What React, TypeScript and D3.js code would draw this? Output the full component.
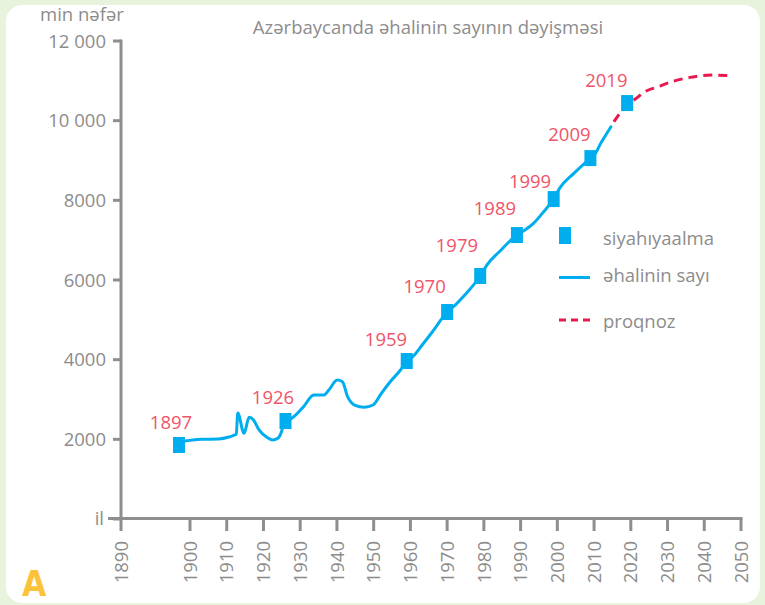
import React from "react";
import * as d3 from "d3";

// Census years and recorded population (thousand people)
const censusYears = [1897, 1926, 1959, 1970, 1979, 1989, 1999, 2009, 2019];
const censusValues = [1858, 2460, 3966, 5196, 6100, 7128, 8032, 9061, 10442];

// Annual population estimate
const populationYears = [
  1897, 1898.7, 1900.7, 1903.5, 1907.8, 1910.6, 1912.1, 1912.6, 1913.0, 1914.7,
  1916.1, 1917.3, 1918.7, 1921.1, 1922.5, 1923.9, 1924.9, 1925.4, 1926, 1927.7,
  1930.9, 1933.7, 1936.5, 1937.8, 1940.1, 1941.5, 1942.9, 1944.8, 1947.5, 1949.8,
  1952.1, 1954.5, 1957.3, 1959, 1960.65, 1963.2, 1966.0, 1970, 1972.2, 1974.8,
  1979, 1980.8, 1984.2, 1989, 1991.2, 1993.5, 1995.9, 1999, 2000.6, 2004.5,
  2009, 2010.4, 2011.8, 2012.9, 2014.6,
];
const populationValues = [
  1858, 1958, 1983, 2000, 2008, 2058, 2108, 2134, 2661, 2151,
  2553, 2485, 2251, 2041, 1983, 2026, 2191, 2359, 2460, 2528,
  2819, 3112, 3112, 3238, 3489, 3446, 3070, 2861, 2804, 2861,
  3155, 3446, 3740, 3966, 4074, 4367, 4701, 5196, 5371, 5622,
  6100, 6375, 6709, 7128, 7254, 7422, 7673, 8032, 8300, 8677,
  9061, 9179, 9430, 9596, 9847,
];

// Forecast
const forecastYears = [2015.4, 2017.6, 2019, 2020.8, 2023.8, 2027.4, 2031.1, 2034.7, 2038.3, 2042.0, 2047.0];
const forecastValues = [9972, 10266, 10442, 10517, 10725, 10851, 10976, 11062, 11119, 11144, 11135];

// Axis ticks
const xTickYears = [1890, 1900, 1910, 1920, 1930, 1940, 1950, 1960, 1970, 1980, 1990, 2000, 2010, 2020, 2030, 2040, 2050];
const yTickValues = [0, 2000, 4000, 6000, 8000, 10000, 12000];
const yTickLabels = ["", "2000", "4000", "6000", "8000", "10 000", "12 000"];

const legendLabels = ["siyahıyaalma", "əhalinin sayı", "proqnoz"];
const titleText = "Azərbaycanda əhalinin sayının dəyişməsi";
const yUnitText = "min nəfər";
const xUnitText = "il";

// Label placement relative to each census marker (layout only)
const censusLabelDx = [-8, -12.5, -20.7, -22.5, -23.3, -22, -23.6, -21, -20.8];
const censusLabelDy = [-22.5, -24, -22, -25.5, -31, -26.5, -18, -23.5, -22.5];

const W = 765;
const H = 605;
const FONT = "'Open Sans', sans-serif";
const GREY = "#8c8c8c";
const AXIS = "#8e8e90";
const BLUE = "#00aeef";
const RED_TEXT = "#f05468";
const RED_LINE = "#e8194f";

export default function App() {
  const axisX0 = 121;
  const axisY0 = 518.5;

  const x = d3.scaleLinear().domain([1900, 2050]).range([190, 741]);
  const y = d3.scaleLinear().domain([0, 12000]).range([519, 41]);
  const xTick = (yr: number) => (yr < 1900 ? axisX0 : x(yr));

  const popLine = d3
    .line<number>()
    .x((_, i) => x(populationYears[i]))
    .y((v) => y(v))
    .curve(d3.curveMonotoneX);
  const fcLine = d3
    .line<number>()
    .x((_, i) => x(forecastYears[i]))
    .y((v) => y(v))
    .curve(d3.curveMonotoneX);

  return (
    <svg
      width={W}
      height={H}
      style={{ position: "absolute", left: 0, top: 0 }}
      fontFamily={FONT}
    >
      <rect x={0} y={0} width={W} height={H} fill="#e8f3dd" />
      <rect x={6} y={5} width={754} height={598} rx={16} fill="#ffffff" />

      {/* title */}
      <text x={428} y={34} textAnchor="middle" fontSize={18.5} fill={GREY}>
        {titleText}
      </text>
      <text x={82} y={21} textAnchor="middle" fontSize={18.5} fill={GREY}>
        {yUnitText}
      </text>

      {/* y axis */}
      <line x1={axisX0} x2={axisX0} y1={y(12000) - 1.5} y2={axisY0 + 1.5} stroke={AXIS} strokeWidth={3} />
      {yTickValues.map((v, i) => (
        <g key={v}>
          <line x1={113} x2={axisX0} y1={y(v)} y2={y(v)} stroke={AXIS} strokeWidth={3} />
          <text x={106} y={y(v)} dy="0.36em" textAnchor="end" fontSize={18.5} fill={GREY}>
            {yTickLabels[i]}
          </text>
        </g>
      ))}
      <text x={104} y={axisY0} dy="0.36em" textAnchor="end" fontSize={18.5} fill={GREY}>
        {xUnitText}
      </text>

      {/* x axis */}
      <line x1={108} x2={x(2050) + 1.5} y1={axisY0} y2={axisY0} stroke={AXIS} strokeWidth={3} />
      {xTickYears.map((yr) => (
        <g key={yr}>
          <line x1={xTick(yr)} x2={xTick(yr)} y1={axisY0} y2={531} stroke={AXIS} strokeWidth={3} />
          <text
            transform={`translate(${xTick(yr)},541) rotate(-90)`}
            dy="0.36em"
            textAnchor="end"
            fontSize={18.5}
            fill={GREY}
          >
            {yr}
          </text>
        </g>
      ))}

      {/* population line */}
      <path d={popLine(populationValues) || ""} fill="none" stroke={BLUE} strokeWidth={3} strokeLinejoin="round" strokeLinecap="round" />
      {/* forecast */}
      <path d={fcLine(forecastValues) || ""} fill="none" stroke={RED_LINE} strokeWidth={3} strokeDasharray="9 6" />

      {/* census markers */}
      {censusYears.map((yr, i) => (
        <g key={yr}>
          <rect x={x(yr) - 6} y={y(censusValues[i]) - 8} width={12} height={16} fill={BLUE} />
          <text
            x={x(yr) + censusLabelDx[i]}
            y={y(censusValues[i]) + censusLabelDy[i]}
            dy="0.36em"
            textAnchor="middle"
            fontSize={18.5}
            fill={RED_TEXT}
          >
            {yr}
          </text>
        </g>
      ))}

      {/* legend */}
      <rect x={559} y={227} width={12} height={17} fill={BLUE} />
      <text x={603} y={238} dy="0.36em" fontSize={18.5} fill={GREY}>{legendLabels[0]}</text>
      <line x1={559} x2={590} y1={277.5} y2={277.5} stroke={BLUE} strokeWidth={3} />
      <text x={603} y={275} dy="0.36em" fontSize={18.5} fill={GREY}>{legendLabels[1]}</text>
      <line x1={559} x2={590} y1={320} y2={320} stroke={RED_LINE} strokeWidth={3} strokeDasharray="7 5" />
      <text x={603} y={321} dy="0.36em" fontSize={18.5} fill={GREY}>{legendLabels[2]}</text>

      {/* panel letter */}
      <text x={22} y={596} fontSize={35} fontWeight="bold" fill="#fcc33a" fontFamily="'DejaVu Sans Condensed', 'DejaVu Sans', sans-serif">
        A
      </text>
    </svg>
  );
}
